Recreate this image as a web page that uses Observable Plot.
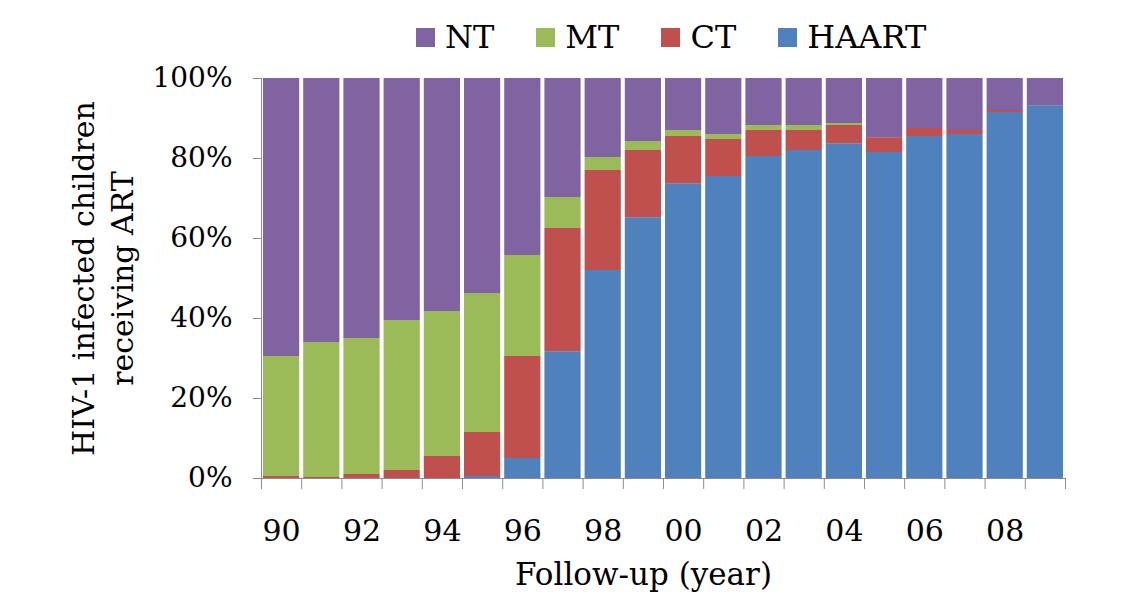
<!DOCTYPE html>
<html>
<head>
<meta charset="utf-8">
<script src="https://cdn.jsdelivr.net/npm/d3@7"></script>
<script src="https://cdn.jsdelivr.net/npm/@observablehq/plot@0.6"></script>
<style>
  html, body { margin: 0; padding: 0; background: #fff; }
  #wrap { position: relative; width: 1135px; height: 602px; font-family: "DejaVu Serif", serif; }
  #legend { position: absolute; left: 416px; top: 18px; display: flex; align-items: center; font-size: 32px; color: #000; }
  .item { display: flex; align-items: center; margin-right: 42px; }
  .sw { width: 19px; height: 19px; margin-right: 10px; }
  #chart { position: absolute; left: 0; top: 56px; }
</style>
</head>
<body>
<div id="wrap">
  <div id="legend"></div>
  <div id="chart"></div>
</div>
<script>
// Data (percent of HIV-1 infected children, by follow-up year)
const years = [1990, 1991, 1992, 1993, 1994, 1995, 1996, 1997, 1998, 1999,
               2000, 2001, 2002, 2003, 2004, 2005, 2006, 2007, 2008, 2009];
const haart = [0, 0, 0, 0, 0, 0.5, 5, 31.7, 52, 65.2, 73.7, 75.5, 80.5, 82, 83.7, 81.5, 85.5, 86, 91.5, 93.2];
const ct    = [0.5, 0.25, 1, 2, 5.5, 11, 25.5, 30.8, 25, 16.8, 11.8, 9.25, 6.5, 5, 4.55, 3.7, 2, 1, 0.5, 0];
const mt    = [30, 33.75, 34, 37.5, 36.25, 34.75, 25.25, 7.75, 3.25, 2.25, 1.5, 1.25, 1.25, 1.25, 0.5, 0, 0, 0, 0, 0];
const nt    = [69.5, 66, 65, 60.5, 58.25, 53.75, 44.25, 29.75, 19.75, 15.75, 13, 14, 11.75, 11.75, 11.25, 14.8, 12.5, 13, 8, 6.8];

const seriesNames = ["HAART", "CT", "MT", "NT"];          // stacking order, bottom to top
const seriesColors = ["#4F81BD", "#C0504D", "#9BBB59", "#8064A2"];
const legendOrder = ["NT", "MT", "CT", "HAART"];

const labelYears = [1990, 1992, 1994, 1996, 1998, 2000, 2002, 2004, 2006, 2008];
const tickLabels = ["90", "92", "94", "96", "98", "00", "02", "04", "06", "08"];
const yTicks = [0, 20, 40, 60, 80, 100];
const yTitle = "HIV-1 infected children\nreceiving ART";
const xTitle = "Follow-up (year)";

const values = {HAART: haart, CT: ct, MT: mt, NT: nt};
const data = years.flatMap((yr, i) => seriesNames.map(s => ({year: yr, series: s, value: values[s][i]})));
const boundaries = [years[0] - 0.5, ...years.map(y => y + 0.5)];

const axisGray = "#8c8c8c";

const chart = Plot.plot({
  width: 1135,
  height: 546,
  marginTop: 22,
  marginBottom: 124,
  marginLeft: 261,
  marginRight: 70,
  style: {fontFamily: "DejaVu Serif", fontSize: "28px", color: "#000", background: "#fff", overflow: "visible"},
  x: {type: "linear", domain: [years[0] - 0.5, years[years.length - 1] + 0.5]},
  y: {domain: [0, 100]},
  color: {domain: seriesNames, range: seriesColors},
  marks: [
    Plot.rectY(data, Plot.stackY({
      x1: d => d.year - 0.5,
      x2: d => d.year + 0.5,
      y: "value",
      fill: "series",
      insetLeft: 2,
      insetRight: 2
    })),
    Plot.axisY({ticks: yTicks, tickFormat: d => d + "%", tickSize: 8, tickPadding: 21, stroke: axisGray, fill: "#000", fontSize: 28, label: null}),
    Plot.axisX({ticks: boundaries, tickFormat: () => "", tickSize: 11, stroke: axisGray, label: null}),
    Plot.axisX({ticks: labelYears, tickFormat: d => tickLabels[labelYears.indexOf(d)], tickSize: 0, tickPadding: 41, fill: "#000", fontSize: 30, label: null}),
    Plot.ruleX([years[0] - 0.5], {stroke: axisGray}),
    Plot.ruleY([0], {stroke: axisGray}),
    Plot.text([yTitle], {text: d => d, frameAnchor: "left", textAnchor: "middle", rotate: -90, dx: -160, lineHeight: 1.3, fontSize: 30, fill: "#000"}),
    Plot.text([xTitle], {text: d => d, frameAnchor: "bottom", textAnchor: "middle", dx: -20, dy: 106, fontSize: 31, fill: "#000"})
  ]
});
document.getElementById("chart").appendChild(chart);

const legend = document.getElementById("legend");
legendOrder.forEach(name => {
  const item = document.createElement("div");
  item.className = "item";
  const sw = document.createElement("span");
  sw.className = "sw";
  sw.style.background = seriesColors[seriesNames.indexOf(name)];
  const label = document.createElement("span");
  label.textContent = name;
  item.appendChild(sw);
  item.appendChild(label);
  legend.appendChild(item);
});
</script>
</body>
</html>
